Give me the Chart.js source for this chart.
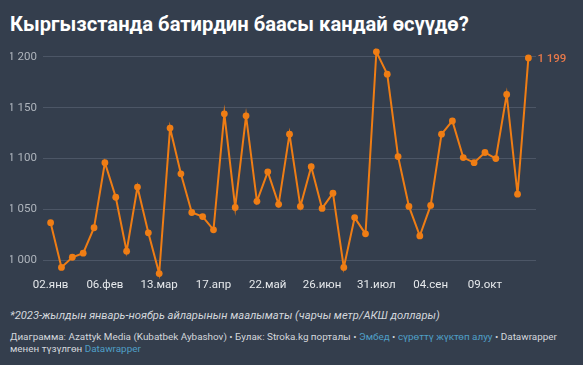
<!DOCTYPE html>
<html>
<head>
<meta charset="utf-8">
<script src="https://cdn.jsdelivr.net/npm/chart.js@4.4.1/dist/chart.umd.min.js"></script>
<style>
  html, body { margin: 0; padding: 0; background: #343e4d; }
  #wrap { position: relative; width: 583px; height: 365px; overflow: hidden; font-family: Roboto, "Noto Sans", sans-serif; }
  #title { position: absolute; left: 10px; top: 12px; color: #ffffff; font-size: 20.2px; font-weight: 700; white-space: nowrap; }
  #chartBox { position: absolute; left: 0; top: 34px; width: 583px; height: 258px; }
  #note { position: absolute; left: 10px; top: 309px; color: #d3d7dc; font-size: 11.2px; font-style: italic; white-space: nowrap; }
  #foot { position: absolute; left: 10px; top: 331px; color: #d3d7dc; font-size: 9.9px; line-height: 12px; white-space: nowrap; }
  #foot .lnk { color: #4f9fc6; }
</style>
</head>
<body>
<div id="wrap">
  <div id="title">Кыргызстанда батирдин баасы кандай өсүүдө?</div>
  <div id="chartBox"><canvas id="price-chart" width="583" height="258"></canvas></div>
  <div id="note">*2023-жылдын январь-ноябрь айларынын маалыматы (чарчы метр/АКШ доллары)</div>
  <div id="foot">Диаграмма: Azattyk Media (Kubatbek Aybashov) • Булак: Stroka.kg порталы • <span class="lnk">Эмбед</span> • <span class="lnk">сүрөттү жүктөп алуу</span> • Datawrapper<br>менен түзүлгөн <span class="lnk">Datawrapper</span></div>
</div>
<script>
// weekly dates, 2023
var weeks = [
  "02.янв", "09.янв", "16.янв", "23.янв", "30.янв",
  "06.фев", "13.фев", "20.фев", "27.фев",
  "06.мар", "13.мар", "20.мар", "27.мар",
  "03.апр", "10.апр", "17.апр", "24.апр",
  "01.май", "08.май", "15.май", "22.май", "29.май",
  "05.июн", "12.июн", "19.июн", "26.июн",
  "03.июл", "10.июл", "17.июл", "24.июл", "31.июл",
  "07.авг", "14.авг", "21.авг", "28.авг",
  "04.сен", "11.сен", "18.сен", "25.сен",
  "02.окт", "09.окт", "16.окт", "23.окт", "30.окт",
  "06.ноя"
];

// price per square metre, USD
var prices = [
  1037, 993, 1003, 1007, 1032,
  1096, 1062, 1009, 1072,
  1027, 987, 1130, 1085,
  1047, 1043, 1030, 1144,
  1052, 1142, 1058, 1087, 1055,
  1124, 1053, 1092, 1051,
  1066, 993, 1042, 1026, 1205,
  1183, 1102, 1053, 1024,
  1054, 1124, 1137, 1101,
  1096, 1106, 1100, 1163, 1065,
  1199
];

var xTickWeeks = ["02.янв", "06.фев", "13.мар", "17.апр", "22.май", "26.июн", "31.июл", "04.сен", "09.окт"];
var yTicks = [1000, 1050, 1100, 1150, 1200];

var orange = "#ef7d14";

var points = prices.map(function (v, i) { return { x: i, y: v }; });

function fmt(v) {
  return v.toLocaleString("ru-RU").replace(/\s/g, " ");
}

// label next to the last point
var lastLabel = {
  id: "lastLabel",
  afterDatasetsDraw: function (chart) {
    var meta = chart.getDatasetMeta(0);
    var pt = meta.data[meta.data.length - 1];
    var ctx = chart.ctx;
    ctx.save();
    ctx.font = "500 11.5px Roboto";
    ctx.fillStyle = "#e8794a";
    ctx.textBaseline = "middle";
    ctx.fillText(fmt(prices[prices.length - 1]), pt.x + 9, pt.y + 1);
    ctx.restore();
  }
};

new Chart(document.getElementById("price-chart"), {
  type: "line",
  data: {
    datasets: [{
      data: points,
      borderColor: orange,
      backgroundColor: orange,
      borderWidth: 2,
      pointRadius: 3.4,
      pointBorderWidth: 0,
      pointBackgroundColor: orange,
      tension: 0,
      clip: false
    }]
  },
  options: {
    responsive: false,
    animation: false,
    layout: { padding: { left: 10, right: 47, top: 0, bottom: 0 } },
    plugins: { legend: { display: false }, tooltip: { enabled: false } },
    scales: {
      x: {
        type: "linear",
        min: -0.7,
        max: 44.7,
        grid: { display: false, drawTicks: false },
        border: { display: false },
        afterBuildTicks: function (axis) {
          axis.ticks = xTickWeeks.map(function (w) { return { value: weeks.indexOf(w) }; });
        },
        afterFit: function (axis) { axis.height = 15; },
        ticks: {
          color: "#e6e9ec",
          font: { family: "Roboto", size: 11.5 },
          padding: 1,
          maxRotation: 0,
          autoSkip: false,
          callback: function (v) { return weeks[v]; }
        }
      },
      y: {
        min: 983.6,
        max: 1209.8,
        grid: { color: "#4c5666", lineWidth: 1, drawTicks: false },
        border: { display: false },
        afterBuildTicks: function (axis) {
          axis.ticks = yTicks.map(function (v) { return { value: v }; });
        },
        afterFit: function (axis) { axis.width = 33; },
        ticks: {
          color: "#aeb4bc",
          font: { family: "Roboto", size: 11.5 },
          padding: 6,
          callback: function (v) { return fmt(v); }
        }
      }
    }
  },
  plugins: [lastLabel]
});
</script>
</body>
</html>
